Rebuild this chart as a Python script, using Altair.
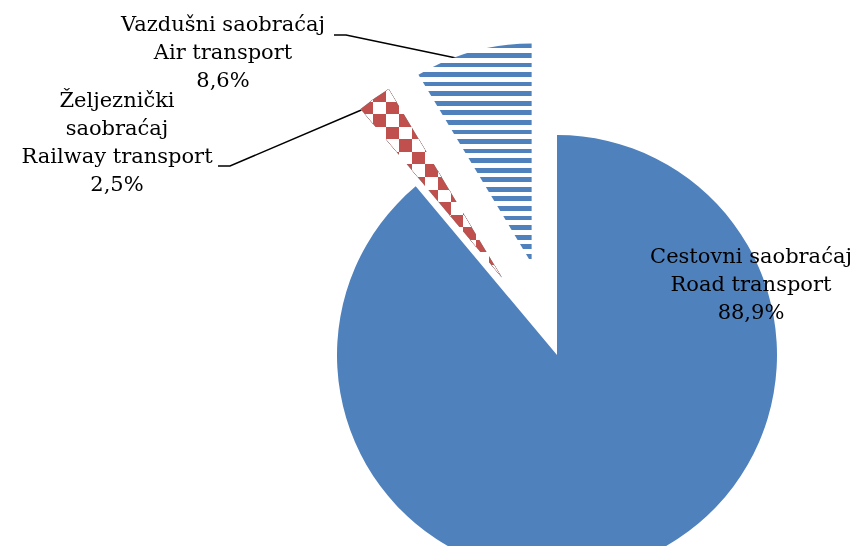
import math
import altair as alt
import pandas as pd

# ---- data ----
keys = ["road", "rail", "air"]
names = ["Cestovni saobraćaj\nRoad transport",
         "Željeznički\nsaobraćaj\nRailway transport",
         "Vazdušni saobraćaj\nAir transport"]
shares = [88.9, 2.5, 8.6]
pct_labels = ["88,9%", "2,5%", "8,6%"]

# ---- layout / style ----
CX, CY = 549, 347          # pie centre (plot px)
R = 220                    # pie radius
explode = [0, 95, 95]      # explosion distance per slice
BLUE = "#4F81BD"
RED = "#C0504D"
FONT = "DejaVu Serif"

label_pos = {"road": (743, 249), "rail": (109, 93), "air": (215, 17)}
leader_pts = {
    "air": [(326, 27), (338, 27), (448, 50)],
    "rail": [(210, 158), (222, 158), (358, 100)],
}


def stripes(c1, c2, n, vertical=True):
    stops = []
    for i in range(n):
        c = c1 if i % 2 == 0 else c2
        stops.append({"offset": i / n, "color": c})
        stops.append({"offset": (i + 1) / n, "color": c})
    g = {"gradient": "linear", "stops": stops}
    if vertical:
        g.update({"x1": 0, "y1": 0, "x2": 0, "y2": 1})
    else:
        g.update({"x1": 0, "y1": 0, "x2": 1, "y2": 0})
    return g


df = pd.DataFrame({"key": keys, "share": shares, "order": list(range(len(keys))),
                   "explode": explode})

base = (
    alt.Chart(df)
    .transform_window(cum="sum(share)", sort=[alt.SortField("order")], frame=[None, 0])
    .transform_calculate(start="datum.cum - datum.share",
                         mid="datum.cum - datum.share / 2")
    .transform_calculate(px=f"{CX} + datum.explode * sin(2 * PI * datum.mid / 100)",
                         py=f"{CY} - datum.explode * cos(2 * PI * datum.mid / 100)")
)

enc = dict(
    x=alt.X("px:Q", scale=None, axis=None),
    y=alt.Y("py:Q", scale=None, axis=None),
    theta=alt.Theta("start:Q", scale=alt.Scale(domain=[0, 100], range=[0, 2 * math.pi])),
    theta2=alt.Theta2("cum:Q"),
)

road = base.transform_filter(alt.datum.key == "road").mark_arc(radius=R, fill=BLUE).encode(**enc)

rail_a = base.transform_filter(alt.datum.key == "rail").mark_arc(
    radius=R, fill=stripes("#000000", "#ffffff", 15, True)).encode(**enc)
rail_b = base.transform_filter(alt.datum.key == "rail").mark_arc(
    radius=R, fill=stripes("#ffffff", "#000000", 11, False), blend="difference").encode(**enc)
rail_c = base.transform_filter(alt.datum.key == "rail").mark_arc(
    radius=R, fill=RED, blend="screen").encode(**enc)

air = base.transform_filter(alt.datum.key == "air").mark_arc(
    radius=R, fill=stripes(BLUE, "#ffffff", 46, True)).encode(**enc)

lab_df = pd.DataFrame({
    "key": keys,
    "text": [n + "\n" + p for n, p in zip(names, pct_labels)],
    "lx": [label_pos[k][0] for k in keys],
    "ly": [label_pos[k][1] for k in keys],
})
labels = alt.Chart(lab_df).mark_text(
    font=FONT, fontSize=21, lineBreak="\n", lineHeight=28,
    align="center", baseline="middle", color="black"
).encode(
    x=alt.X("lx:Q", scale=None, axis=None),
    y=alt.Y("ly:Q", scale=None, axis=None),
    text="text:N",
)

rows = []
for k, pts in leader_pts.items():
    for i, (x, y) in enumerate(pts):
        rows.append({"key": k, "i": i, "lx": x, "ly": y})
lines = alt.Chart(pd.DataFrame(rows)).mark_line(color="black", strokeWidth=1.5).encode(
    x=alt.X("lx:Q", scale=None, axis=None),
    y=alt.Y("ly:Q", scale=None, axis=None),
    detail="key:N",
    order="i:Q",
)

chart = (
    alt.layer(lines, road, rail_a, rail_b, rail_c, air, labels)
    .properties(width=848, height=538, padding=0,
                autosize=alt.AutoSizeParams(type="fit", contains="padding"),
                background="white")
    .configure_view(stroke=None)
)

chart.save("out.html", embed_options={"renderer": "svg", "actions": False})
